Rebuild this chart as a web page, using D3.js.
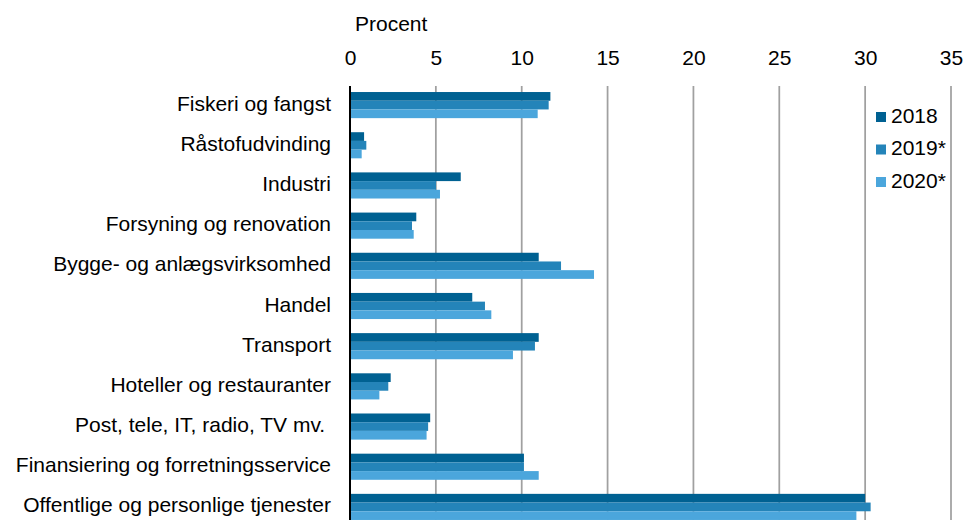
<!DOCTYPE html>
<html>
<head>
<meta charset="utf-8">
<script src="https://cdn.jsdelivr.net/npm/d3@7"></script>
<style>
  body { margin: 0; background: #fff; }
  text { font-family: "Liberation Sans", Arial, sans-serif; fill: #000; }
</style>
</head>
<body>
<div id="chart"></div>
<script>
/* branchefordeling, procent, vandret grupperet søjlediagram */

const categories = [
  "Fiskeri og fangst",
  "Råstofudvinding",
  "Industri",
  "Forsyning og renovation",
  "Bygge- og anlægsvirksomhed",
  "Handel",
  "Transport",
  "Hoteller og restauranter",
  "Post, tele, IT, radio, TV mv. ",
  "Finansiering og forretningsservice",
  "Offentlige og personlige tjenester"
];
const years = ["2018", "2019*", "2020*"];
const values2018 = [11.67, 0.82, 6.45, 3.86, 10.99, 7.12, 10.99, 2.37, 4.67, 10.13, 30.0];
const values2019 = [11.57, 0.95, 5.01, 3.61, 12.29, 7.86, 10.77, 2.23, 4.55, 10.13, 30.32];
const values2020 = [10.93, 0.68, 5.24, 3.71, 14.21, 8.23, 9.49, 1.71, 4.46, 10.99, 29.49];
const xTicks = [0, 5, 10, 15, 20, 25, 30, 35];

let width = 964,
    height = 520,
    fontSize = 21,
    margin = ({ top: 86, right: 13, left: 350 });

const series = [values2018, values2019, values2020];
const colors = ["#006192", "#2484b9", "#4ba6dc"];

const svg = d3.select("#chart")
  .append("svg")
  .attr("width", width)
  .attr("height", height);

let x = d3.scaleLinear()
  .domain([0, 35])
  .range([margin.left, 951]);

let y = d3.scaleBand()
  .domain(categories)
  .range([margin.top, 526])
  .paddingInner(0.35)
  .paddingOuter(0.15);

let ySub = d3.scaleBand()
  .domain(years)
  .range([0, y.bandwidth()]);

// lodrette gitterlinjer
svg.append("g")
  .selectAll("line")
  .data(xTicks.slice(1))
  .join("line")
  .attr("x1", d => x(d))
  .attr("x2", d => x(d))
  .attr("y1", margin.top)
  .attr("y2", height)
  .attr("stroke", "#a0a0a0")
  .attr("stroke-width", 1.75);

// akse øverst
let xAxis = svg.append("g")
  .attr("transform", `translate(0,59)`)
  .call(d3.axisTop(x).tickValues(xTicks).tickSize(0).tickPadding(0));
xAxis.select(".domain").remove();
xAxis.selectAll("text")
  .attr("font-size", fontSize)
  .attr("dominant-baseline", "middle")
  .attr("dy", null)
  .attr("y", 0)
  .style("font-family", "Liberation Sans, Arial, sans-serif");

svg.append("text")
  .text("Procent")
  .attr("x", 355)
  .attr("y", 25)
  .attr("font-size", fontSize)
  .attr("dominant-baseline", "middle");

// søjler
years.forEach((yr, i) => {
  svg.append("g")
    .attr("fill", colors[i])
    .selectAll("rect")
    .data(categories)
    .join("rect")
    .attr("x", x(0))
    .attr("y", d => y(d) + ySub(yr))
    .attr("width", (d, j) => x(series[i][j]) - x(0))
    .attr("height", ySub.bandwidth());
});

// kategori-etiketter
svg.append("g")
  .selectAll("text")
  .data(categories)
  .join("text")
  .text(d => d)
  .attr("x", 331)
  .attr("y", d => y(d) + y.bandwidth() / 2)
  .attr("text-anchor", "end")
  .attr("dominant-baseline", "middle")
  .attr("font-size", fontSize)
  .style("white-space", "pre");

// y-akse linje
svg.append("line")
  .attr("x1", x(0))
  .attr("x2", x(0))
  .attr("y1", margin.top)
  .attr("y2", height)
  .attr("stroke", "#000")
  .attr("stroke-width", 2);

// legende
let legend = svg.append("g")
  .selectAll("g")
  .data(years)
  .join("g")
  .attr("transform", (d, i) => `translate(876,${117 + i * 32.5})`);

legend.append("rect")
  .attr("x", 0)
  .attr("y", -5)
  .attr("width", 10)
  .attr("height", 10)
  .attr("fill", (d, i) => colors[i]);

legend.append("text")
  .text(d => d)
  .attr("x", 15)
  .attr("y", 0)
  .attr("font-size", fontSize)
  .attr("dominant-baseline", "middle");
</script>
</body>
</html>
